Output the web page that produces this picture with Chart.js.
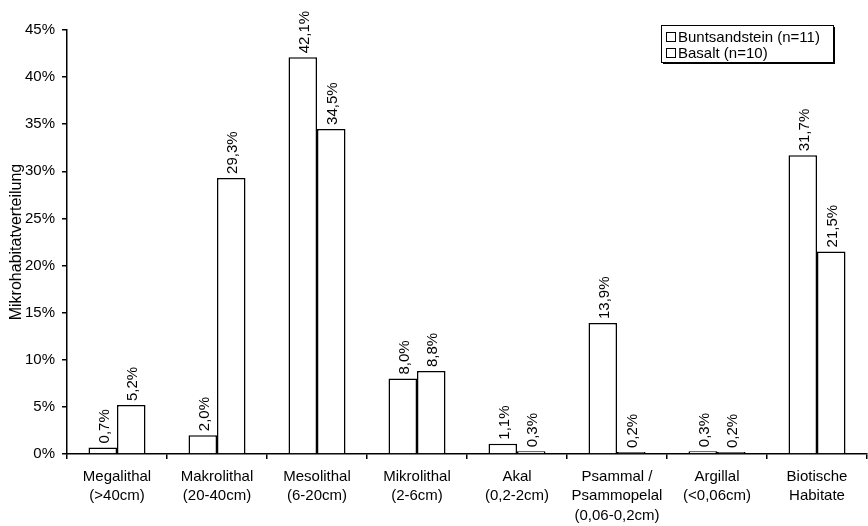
<!DOCTYPE html>
<html>
<head>
<meta charset="utf-8">
<script src="https://cdn.jsdelivr.net/npm/chart.js@4/dist/chart.umd.min.js"></script>
<style>
  html, body { margin: 0; padding: 0; background: #fff; }
  #wrap { width: 868px; height: 526px; position: relative; }
</style>
</head>
<body>
<div id="wrap"><canvas id="c" width="868" height="526"></canvas></div>
<script>
// Habitat classes (multi-line axis labels)
const categories = [
  ['Megalithal', '(>40cm)'],
  ['Makrolithal', '(20-40cm)'],
  ['Mesolithal', '(6-20cm)'],
  ['Mikrolithal', '(2-6cm)'],
  ['Akal', '(0,2-2cm)'],
  ['Psammal /', 'Psammopelal', '(0,06-0,2cm)'],
  ['Argillal', '(<0,06cm)'],
  ['Biotische', 'Habitate']
];
const seriesNames = ['Buntsandstein (n=11)', 'Basalt (n=10)'];
const buntsandstein = [0.7, 2.0, 42.1, 8.0, 1.1, 13.9, 0.3, 31.7];
const basalt = [5.2, 29.3, 34.5, 8.8, 0.3, 0.2, 0.2, 21.5];
const yTicks = [0, 5, 10, 15, 20, 25, 30, 35, 40, 45];

const FONT = 'Arial, "Liberation Sans", sans-serif';
const pct = v => v.toFixed(1).replace('.', ',') + '%';

// Rotated value labels above each bar
const valueLabels = {
  id: 'valueLabels',
  afterDatasetsDraw(chart) {
    const ctx = chart.ctx;
    ctx.save();
    ctx.fillStyle = '#000';
    ctx.font = '15px ' + FONT;
    ctx.textAlign = 'left';
    ctx.textBaseline = 'middle';
    chart.data.datasets.forEach((ds, i) => {
      chart.getDatasetMeta(i).data.forEach((bar, j) => {
        ctx.save();
        ctx.translate(bar.x + 2, bar.y - 4);
        ctx.rotate(-Math.PI / 2);
        ctx.fillText(pct(ds.data[j]), 0, 0);
        ctx.restore();
      });
    });
    ctx.restore();
  }
};

// Boxed legend with drop shadow in the upper right corner
const boxLegend = {
  id: 'boxLegend',
  afterDraw(chart) {
    const ctx = chart.ctx;
    const x = 661, y = 25, w = 172, h = 37;
    ctx.save();
    ctx.fillStyle = '#000';
    ctx.fillRect(x + 2, y + 2, w, h);
    ctx.fillStyle = '#fff';
    ctx.fillRect(x, y, w, h);
    ctx.strokeStyle = '#000';
    ctx.lineWidth = 1;
    ctx.strokeRect(x + 0.5, y + 0.5, w, h);
    ctx.font = '15px ' + FONT;
    ctx.textBaseline = 'middle';
    ctx.textAlign = 'left';
    chart.data.datasets.forEach((ds, i) => {
      const cy = y + 12 + i * 16;
      ctx.strokeRect(x + 5.5, cy - 4.5, 9, 9);
      ctx.fillStyle = '#000';
      ctx.fillText(ds.label, x + 17, cy + 1);
    });
    ctx.restore();
  }
};

new Chart(document.getElementById('c'), {
  type: 'bar',
  data: {
    labels: categories,
    datasets: [
      { label: seriesNames[0], data: buntsandstein, backgroundColor: '#fff', borderColor: '#000', borderWidth: 1.5 },
      { label: seriesNames[1], data: basalt, backgroundColor: '#fff', borderColor: '#000', borderWidth: 1.5 }
    ]
  },
  options: {
    responsive: false,
    animation: false,
    devicePixelRatio: 1,
    layout: { padding: { top: 30, right: 1, left: 0, bottom: 0 } },
    datasets: { bar: { categoryPercentage: 0.57, barPercentage: 1.0 } },
    plugins: { legend: { display: false }, tooltip: { enabled: false } },
    scales: {
      x: {
        grid: { offset: true, drawOnChartArea: false, drawTicks: true, tickLength: 5, color: '#000', lineWidth: 1.5 },
        border: { display: true, color: '#000', width: 1.5 },
        ticks: { color: '#000', font: { family: FONT, size: 15, lineHeight: 1.3 }, padding: 8, maxRotation: 0, autoSkip: false },
        afterFit(axis) { axis.height = 72; }
      },
      y: {
        min: 0, max: 45,
        afterBuildTicks(axis) { axis.ticks = yTicks.map(v => ({ value: v })); },
        grid: { drawOnChartArea: false, drawTicks: true, tickLength: 5, color: '#000', lineWidth: 1.5 },
        border: { display: true, color: '#000', width: 1.5 },
        ticks: { color: '#000', font: { family: FONT, size: 15 }, padding: 7, callback: v => v + '%' },
        title: { display: true, text: 'Mikrohabitatverteilung', color: '#000', font: { family: FONT, size: 16 }, padding: { top: 7, bottom: 0 } },
        afterFit(axis) { axis.width = 67; }
      }
    }
  },
  plugins: [valueLabels, boxLegend]
});
</script>
</body>
</html>
